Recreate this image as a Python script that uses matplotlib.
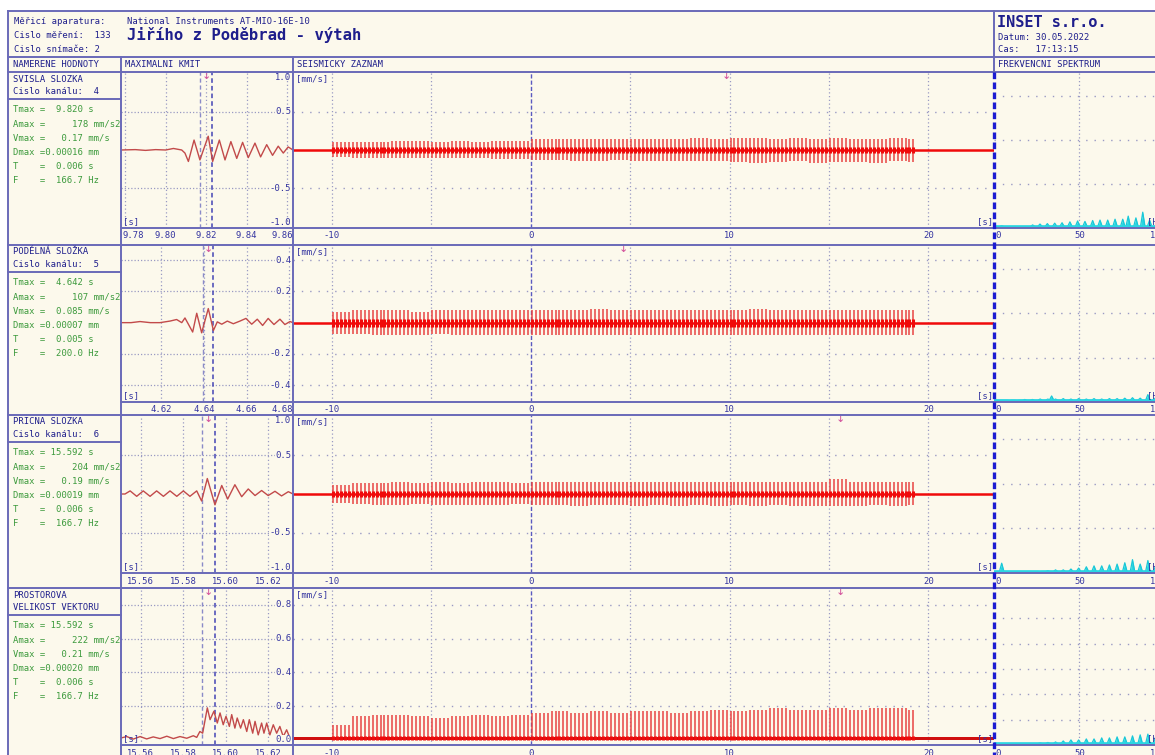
import numpy as np
import matplotlib
matplotlib.use("Agg")
import matplotlib.pyplot as plt
from matplotlib.lines import Line2D
from matplotlib.patches import Rectangle
import matplotlib.transforms as mtransforms

plt.rcParams['font.family'] = ['DejaVu Sans Mono', 'DejaVu Sans']

# ---------------------------------------------------------------- data
HEADER_LEFT = ["Měřicí aparatura:", "Cislo měření:  133", "Cislo snímače: 2"]
DEVICE = "National Instruments AT-MIO-16E-10"
TITLE = "Jiřího z Poděbrad - výtah"
COMPANY = "INSET s.r.o."
DATE_LINE = "Datum: 30.05.2022"
TIME_LINE = "Cas:   17:13:15"
COL_TITLES = ["NAMERENE HODNOTY", "MAXIMALNI KMIT", "SEISMICKY ZAZNAM", "FREKVENCNI SPEKTRUM"]

ROW_TITLES = [["SVISLA SLOZKA", "Cislo kanálu:  4"],
              ["PODÉLNÁ SLOŽKA", "Cislo kanálu:  5"],
              ["PRICNA SLOZKA", "Cislo kanálu:  6"],
              ["PROSTOROVA", "VELIKOST VEKTORU"]]
TMAX = [9.820, 4.642, 15.592, 15.592]
AMAX = [178, 107, 204, 222]
VMAX_TXT = ["0.17", "0.085", "0.19", "0.21"]
DMAX_TXT = ["0.00016", "0.00007", "0.00019", "0.00020"]
PERIOD = [0.006, 0.005, 0.006, 0.006]
FREQ = [166.7, 200.0, 166.7, 166.7]

# maximum oscillation detail (time [s], velocity [mm/s])
KMIT_T = [
    [9.7779, 9.7850, 9.7900, 9.7950, 9.8000, 9.8038, 9.8079, 9.8095, 9.8112, 9.8140,
     9.8169, 9.8210, 9.8232, 9.8265, 9.8293, 9.8322, 9.8351, 9.8380, 9.8408, 9.8441,
     9.8469, 9.8499, 9.8528, 9.8556, 9.8581, 9.8605, 9.8629],
    [4.6013, 4.6060, 4.6102, 4.6150, 4.6195, 4.6242, 4.6273, 4.6297, 4.6312, 4.6348,
     4.6367, 4.6390, 4.6421, 4.6445, 4.6463, 4.6484, 4.6510, 4.6538, 4.6569, 4.6597,
     4.6624, 4.6650, 4.6675, 4.6701, 4.6728, 4.6756, 4.6779, 4.6803, 4.6817],
    [15.5507, 15.5526, 15.5550, 15.5581, 15.5612, 15.5644, 15.5675, 15.5707, 15.5738,
     15.5770, 15.5801, 15.5832, 15.5864, 15.5887, 15.5914, 15.5950, 15.5982, 15.6010,
     15.6044, 15.6076, 15.6107, 15.6139, 15.6170, 15.6201, 15.6233, 15.6264, 15.6296, 15.6318],
    [15.5502, 15.5534, 15.5565, 15.5597, 15.5628, 15.5659, 15.5691, 15.5723, 15.5754,
     15.5785, 15.5817, 15.5848, 15.5864, 15.5879, 15.5892, 15.5914, 15.5927, 15.5945,
     15.5961, 15.5974, 15.5989, 15.6002, 15.6018, 15.6029, 15.6044, 15.6055, 15.6071,
     15.6084, 15.6100, 15.6112, 15.6128, 15.6139, 15.6154, 15.6170, 15.6181, 15.6194,
     15.6209, 15.6225, 15.6241, 15.6256, 15.6272, 15.6288, 15.6304, 15.6319],
]
KMIT_V = [
    [0.0, 0.005, -0.005, 0.005, 0.0, 0.02, 0.0, -0.04, -0.15, 0.13,
     -0.13, 0.18, -0.15, 0.13, -0.13, 0.11, -0.11, 0.10, -0.10, 0.09,
     -0.09, 0.07, -0.07, 0.05, -0.04, 0.04, 0.0],
    [0.0, 0.0, 0.007, 0.0, 0.0, 0.01, 0.02, 0.0, 0.03, -0.06,
     0.06, -0.065, 0.09, -0.05, 0.005, -0.01, 0.01, -0.007, 0.01, 0.027,
     -0.01, 0.022, -0.018, 0.027, -0.012, 0.022, -0.012, 0.007, 0.0],
    [0.0, 0.0, 0.04, -0.03, 0.04, -0.03, 0.04, -0.03, 0.04,
     -0.03, 0.04, -0.03, 0.04, -0.09, 0.20, -0.14, 0.11, -0.065,
     0.12, -0.035, 0.065, -0.02, 0.045, -0.02, 0.035, -0.025, 0.03, 0.0],
    [0.01, 0.02, 0.005, 0.02, 0.006, 0.018, 0.008, 0.022, 0.008,
     0.02, 0.01, 0.025, 0.015, 0.05, 0.04, 0.19, 0.12, 0.17,
     0.10, 0.16, 0.09, 0.14, 0.08, 0.15, 0.07, 0.13, 0.07,
     0.12, 0.05, 0.12, 0.04, 0.11, 0.03, 0.10, 0.04, 0.10,
     0.03, 0.09, 0.04, 0.08, 0.02, 0.06, 0.01, 0.02],
]
KMIT_XTICKS = [[9.78, 9.80, 9.82, 9.84, 9.86], [4.62, 4.64, 4.66, 4.68],
               [15.56, 15.58, 15.60, 15.62], [15.56, 15.58, 15.60, 15.62]]
Y_TICKS = [[1.0, 0.5, -0.5, -1.0], [0.4, 0.2, -0.2, -0.4],
           [1.0, 0.5, -0.5, -1.0], [0.8, 0.6, 0.4, 0.2, 0.0]]
Y_GRID = [[0.5, -0.5], [0.4, 0.2, -0.2, -0.4], [0.5, -0.5], [0.8, 0.6, 0.4, 0.2]]

# seismic record: pulse train, envelope read per second (-10 .. 19 s)
SEIS_TICKS = [-10, 0, 10, 20]
SEIS_GRID = [-10, -5, 0, 5, 10, 15, 20]
PULSE_START, PULSE_END, PULSE_STEP = -9.95, 19.40, 0.2
SEIS_POS = [
    [0.10, 0.11, 0.11, 0.12, 0.12, 0.11, 0.12, 0.11, 0.12, 0.12,
     0.14, 0.14, 0.15, 0.14, 0.15, 0.15, 0.14, 0.15, 0.16, 0.15,
     0.16, 0.16, 0.15, 0.16, 0.15, 0.16, 0.15, 0.14, 0.16, 0.15],
    [0.07, 0.08, 0.08, 0.08, 0.07, 0.08, 0.08, 0.08, 0.08, 0.08,
     0.08, 0.08, 0.08, 0.09, 0.08, 0.08, 0.08, 0.08, 0.08, 0.08,
     0.08, 0.09, 0.08, 0.08, 0.08, 0.08, 0.08, 0.08, 0.08, 0.08],
    [0.12, 0.14, 0.14, 0.15, 0.14, 0.15, 0.14, 0.15, 0.15, 0.14,
     0.15, 0.15, 0.16, 0.15, 0.15, 0.16, 0.15, 0.16, 0.15, 0.16,
     0.15, 0.16, 0.15, 0.16, 0.16, 0.19, 0.16, 0.15, 0.16, 0.15],
    [0.09, 0.14, 0.15, 0.15, 0.14, 0.13, 0.14, 0.15, 0.14, 0.15,
     0.16, 0.17, 0.16, 0.17, 0.16, 0.17, 0.17, 0.16, 0.17, 0.18,
     0.17, 0.18, 0.19, 0.18, 0.18, 0.19, 0.18, 0.19, 0.19, 0.18],
]
SEIS_NEG = [
    [0.09, 0.10, 0.11, 0.10, 0.11, 0.11, 0.10, 0.11, 0.12, 0.12,
     0.13, 0.13, 0.14, 0.14, 0.13, 0.14, 0.14, 0.15, 0.15, 0.14,
     0.16, 0.17, 0.16, 0.15, 0.17, 0.16, 0.16, 0.17, 0.15, 0.16],
    [0.07, 0.07, 0.08, 0.08, 0.08, 0.07, 0.08, 0.08, 0.08, 0.08,
     0.08, 0.08, 0.08, 0.08, 0.08, 0.08, 0.08, 0.08, 0.08, 0.08,
     0.08, 0.08, 0.08, 0.08, 0.08, 0.08, 0.08, 0.08, 0.08, 0.08],
    [0.12, 0.13, 0.14, 0.14, 0.13, 0.14, 0.14, 0.14, 0.14, 0.13,
     0.14, 0.14, 0.15, 0.14, 0.14, 0.15, 0.14, 0.15, 0.14, 0.15,
     0.14, 0.15, 0.14, 0.15, 0.15, 0.15, 0.15, 0.14, 0.15, 0.14],
    [0.0] * 30,
]
SEIS_CORE = [0.04, 0.025, 0.04, 0.025]

# frequency spectrum peaks (Hz, relative amplitude)
SPEC_F = [
    [4.5, 22.6, 26.9, 31.2, 35.5, 39.8, 44.4, 48.9, 53.2, 57.7, 62.0, 66.5, 70.8,
     75.3, 78.5, 83.0, 87.0, 91.0, 95.5],
    [9.0, 13.5, 18.0, 22.5, 27.0, 31.5, 33.7, 36.0, 40.5, 45.0, 49.5, 54.0, 58.5,
     63.0, 67.5, 72.0, 76.5, 81.0, 85.5, 90.0, 94.5],
    [4.5, 27.0, 31.5, 36.0, 40.5, 45.0, 49.5, 54.0, 58.5, 63.0, 67.5, 72.0, 76.5,
     81.0, 85.5, 90.0, 94.5],
    [22.5, 27.0, 31.5, 36.0, 40.5, 45.0, 49.5, 54.0, 58.5, 63.0, 67.5, 72.0, 76.5,
     81.0, 85.5, 90.0, 94.5],
]
SPEC_H = [
    [0.05, 0.07, 0.09, 0.10, 0.11, 0.12, 0.14, 0.16, 0.15, 0.17, 0.18, 0.18, 0.20,
     0.20, 0.27, 0.23, 0.36, 0.18, 0.20],
    [0.03, 0.03, 0.05, 0.05, 0.06, 0.06, 0.13, 0.06, 0.07, 0.06, 0.07, 0.06, 0.07,
     0.06, 0.07, 0.07, 0.08, 0.09, 0.08, 0.16, 0.09],
    [0.22, 0.03, 0.05, 0.07, 0.07, 0.09, 0.11, 0.14, 0.16, 0.16, 0.18, 0.20, 0.23,
     0.30, 0.20, 0.28, 0.16],
    [0.06, 0.08, 0.10, 0.12, 0.16, 0.20, 0.20, 0.24, 0.24, 0.28, 0.28, 0.32, 0.32,
     0.36, 0.40, 0.43, 0.32],
]
SPEC_TICKS = [0, 50, 100]

# ---------------------------------------------------------------- layout / style
W, H = 1155, 755
ROW_TOP = [72, 245, 415, 588]
ROW_AXB = [228, 401.7, 573, 745]
ROW_SEP = [245, 415, 588]
KMIT_XLIM = [(9.7779, 9.8629), (4.6013, 4.6817), (15.5507, 15.6318), (15.5507, 15.6318)]
YLIM = [(-1.02, 1.02), (-0.505, 0.496), (-1.02, 1.02), (-0.03, 0.90)]
SEIS_XLIM = (-11.95, 23.3)
SPEC_XLIM = (0, 100.6)
SPEC_YLIM = [3.55, 3.55, 3.55, 6.2]
SPEC_GRID = [[1, 2, 3], [1, 2, 3], [1, 2, 3], [1, 2, 3, 4, 5]]
X_LEFT, X_K, X_S, X_F, X_FR = 8, 121, 293, 994, 1166

CREAM = '#fcf9ec'
FRAME = '#6a6ab8'
NAVY = '#1e1e8c'
LBL = '#3434a0'
GREEN = '#3c9a3c'
GRID = '#9a9ac4'
TRACE_K = '#c24a4a'
TRACE_S = '#e84040'
CORE_S = '#f00a0a'
CYAN = '#2ad6e2'
PINK = '#d2509a'
BLUE_THICK = '#1c1cd2'
SMALL = 6.4

fig = plt.figure(figsize=(W / 100, H / 100), dpi=100)
fig.patch.set_facecolor('white')


def fline(xs, ys, **kw):
    kw.setdefault('color', FRAME)
    kw.setdefault('lw', 1.4)
    kw.setdefault('zorder', 6)
    fig.add_artist(Line2D([x / W for x in xs], [1 - y / H for y in ys],
                          transform=fig.transFigure, **kw))


def ftext(x, y, s, **kw):
    kw.setdefault('color', NAVY)
    kw.setdefault('fontsize', SMALL)
    kw.setdefault('va', 'center')
    kw.setdefault('ha', 'left')
    fig.text(x / W, 1 - y / H, s, zorder=7, **kw)


def add_ax(x0, y0, x1, y1):
    ax = fig.add_axes([x0 / W, 1 - y1 / H, (x1 - x0) / W, (y1 - y0) / H])
    ax.set_axis_off()
    return ax


def xlabels(ax, ticks, fmt, xlim, width_px, height_px):
    tr = mtransforms.blended_transform_factory(ax.transData, ax.transAxes)
    y = -8.0 / height_px
    for t in ticks:
        off = (t - xlim[0]) / (xlim[1] - xlim[0]) * width_px
        if off < 12:
            ax.text(1.5 / width_px, y, fmt(t), transform=ax.transAxes, ha='left', va='center',
                    color=LBL, fontsize=SMALL, clip_on=False)
        elif width_px - off < 12:
            ax.text(1.0, y, fmt(t), transform=ax.transAxes, ha='right', va='center',
                    color=LBL, fontsize=SMALL, clip_on=False)
        else:
            ax.text(t, y, fmt(t), transform=tr, ha='center', va='center',
                    color=LBL, fontsize=SMALL, clip_on=False)


# cream background
fig.add_artist(Rectangle((X_LEFT / W, 0), 1, 1 - 11 / H, transform=fig.transFigure,
                         facecolor=CREAM, edgecolor='none', zorder=-5))

# header texts
for i, s in enumerate(HEADER_LEFT):
    ftext(14, [22, 35, 49][i], s)
ftext(127, 22, DEVICE)
ftext(127, 35, TITLE, fontsize=11.2, fontweight='bold')
ftext(997, 22.5, COMPANY, fontsize=11.0, fontweight='bold')
ftext(998, 37, DATE_LINE)
ftext(998, 50, TIME_LINE)
for x, s in zip([13, 125, 297, 998], COL_TITLES):
    ftext(x, 64.5, s)

# frame lines
fline([X_LEFT, W + 5], [11, 11])
fline([X_LEFT, W + 5], [57, 57])
fline([X_LEFT, W + 5], [72, 72])
fline([X_LEFT, X_LEFT], [11, H + 5])
fline([X_K, X_K], [57, H + 5])
fline([X_S, X_S], [57, H + 5])
fline([X_F, X_F], [11, 72])
fline([X_F, X_F], [72, H + 5], color=BLUE_THICK, lw=2.4, ls=(0, (2, 1)), zorder=8)
for y in ROW_SEP:
    fline([X_LEFT, W + 5], [y, y])
for y in ROW_AXB:
    fline([X_K, W + 5], [y, y])

pulse_t = np.arange(PULSE_START, PULSE_END, PULSE_STEP)
pulse_sec = np.floor(pulse_t).astype(int) - SEIS_GRID[0]

for r in range(4):
    top, axb = ROW_TOP[r], ROW_AXB[r]
    hpx = axb - top

    # ---- measured values column
    ftext(13, top + 7, ROW_TITLES[r][0])
    ftext(13, top + 19.5, ROW_TITLES[r][1])
    fline([X_LEFT, X_K], [top + 27, top + 27])
    vals = [f"Tmax = {TMAX[r]:6.3f} s",
            f"Amax = {AMAX[r]:7d} mm/s2",
            f"Vmax = {VMAX_TXT[r]:>6} mm/s",
            f"Dmax ={DMAX_TXT[r]} mm",
            f"T    = {PERIOD[r]:6.3f} s",
            f"F    = {FREQ[r]:6.1f} Hz"]
    for i, s in enumerate(vals):
        ftext(13, top + 37.5 + 14.2 * i, s, color=GREEN)

    # ---- maximum oscillation panel
    axk = add_ax(X_K, top, X_S, axb)
    axk.set_xlim(*KMIT_XLIM[r])
    axk.set_ylim(*YLIM[r])
    wpx = X_S - X_K
    for g in Y_GRID[r]:
        axk.axhline(g, color=GRID, lw=0.9, ls=(0, (1, 1.6)))
    for xt in KMIT_XTICKS[r]:
        axk.axvline(xt, color=GRID, lw=0.9, ls=(0, (1, 2)))
    axk.axvline(TMAX[r] - PERIOD[r] / 2, color='#8a8ac8', lw=1.0, ls=(0, (3, 2)))
    axk.axvline(TMAX[r] + PERIOD[r] / 2, color='#4444b4', lw=1.1, ls=(0, (3, 2)))
    axk.plot(KMIT_T[r], KMIT_V[r], color=TRACE_K, lw=1.0, zorder=3)
    trk = mtransforms.blended_transform_factory(axk.transData, axk.transAxes)
    axk.text(TMAX[r], 1.0 + 1.0 / hpx, '↓', transform=trk, ha='center', va='top',
             color=PINK, fontsize=8, fontfamily='DejaVu Sans')
    tyx = mtransforms.blended_transform_factory(axk.transAxes, axk.transData)
    y0, y1 = YLIM[r]
    for v in Y_TICKS[r]:
        frac = (v - y0) / (y1 - y0)
        if (1 - frac) * hpx < 6:
            axk.text(0.99, 1 - 1.0 / hpx, f"{v:.1f}", transform=axk.transAxes, ha='right',
                     va='top', color=LBL, fontsize=SMALL)
        elif frac * hpx < 4:
            axk.text(0.99, 1.0 / hpx, f"{v:.1f}", transform=axk.transAxes, ha='right',
                     va='bottom', color=LBL, fontsize=SMALL)
        else:
            axk.text(0.99, v, f"{v:.1f}", transform=tyx, ha='right', va='center',
                     color=LBL, fontsize=SMALL,
                     bbox=dict(facecolor=CREAM, edgecolor='none', pad=0.3))
    axk.text(2.0 / wpx, 2.0 / hpx, '[s]', transform=axk.transAxes, ha='left', va='bottom',
             color=LBL, fontsize=SMALL)
    xlabels(axk, KMIT_XTICKS[r], lambda t: f"{t:.2f}", KMIT_XLIM[r], wpx, hpx)

    # ---- seismic record panel
    axs = add_ax(X_S, top, X_F, axb)
    axs.set_xlim(*SEIS_XLIM)
    axs.set_ylim(*YLIM[r])
    for g in Y_GRID[r]:
        axs.axhline(g, color=GRID, lw=1.0, ls=(0, (1, 5)))
    for g in SEIS_GRID:
        if g == 0:
            axs.axvline(g, color='#5a5ac0', lw=1.0, ls=(0, (3, 1.5)))
        else:
            axs.axvline(g, color=GRID, lw=0.9, ls=(0, (1, 2)))
    pos = np.array(SEIS_POS[r])[pulse_sec]
    neg = np.array(SEIS_NEG[r])[pulse_sec]
    core = SEIS_CORE[r]
    if r < 3:
        axs.plot(SEIS_XLIM, [0, 0], color=CORE_S, lw=1.8, zorder=2)
        axs.vlines(pulse_t, -neg, pos, color=TRACE_S, lw=1.2, alpha=0.9, zorder=3)
        axs.vlines(pulse_t, -core, core, color=CORE_S, lw=2.2, zorder=4)
    else:
        axs.fill_between(SEIS_XLIM, 0, core * 0.6, color='#d01010', lw=0, zorder=2)
        axs.vlines(pulse_t, 0, pos, color=TRACE_S, lw=1.2, alpha=0.9, zorder=3)
        axs.vlines(pulse_t, 0, core, color=CORE_S, lw=2.2, zorder=4)
    trs = mtransforms.blended_transform_factory(axs.transData, axs.transAxes)
    axs.text(TMAX[r], 1.0 + 1.0 / hpx, '↓', transform=trs, ha='center', va='top',
             color=PINK, fontsize=8, fontfamily='DejaVu Sans')
    spx = X_F - X_S
    axs.text(3.0 / spx, 1 - 2.0 / hpx, '[mm/s]', transform=axs.transAxes, ha='left', va='top',
             color=LBL, fontsize=SMALL, zorder=6)
    axs.text(1 - 1.0 / spx, 2.0 / hpx, '[s]', transform=axs.transAxes, ha='right', va='bottom',
             color=LBL, fontsize=SMALL, zorder=6)
    xlabels(axs, SEIS_TICKS, lambda t: f"{t:d}", SEIS_XLIM, spx, hpx)

    # ---- frequency spectrum panel
    axf = add_ax(X_F, top, X_FR, axb)
    axf.set_xlim(*SPEC_XLIM)
    axf.set_ylim(0, SPEC_YLIM[r])
    for g in SPEC_GRID[r]:
        axf.axhline(g, color=GRID, lw=1.0, ls=(0, (1, 5)))
    axf.axvline(50, color=GRID, lw=0.9, ls=(0, (1, 2)))
    base = 0.035 * SPEC_YLIM[r] / 3.55
    xs, ys = [SPEC_XLIM[0]], [base]
    for f, h in zip(SPEC_F[r], SPEC_H[r]):
        xs += [f - 1.3, f, f + 1.3]
        ys += [base, h, base]
    xs.append(SPEC_XLIM[1])
    ys.append(base)
    axf.fill_between(xs, 0, ys, color=CYAN, lw=0, zorder=2)
    axf.plot(xs, ys, color='#18c8d8', lw=0.9, zorder=3)
    axf.plot(SPEC_XLIM, [base / 2, base / 2], color=CYAN, lw=2.6, zorder=3)
    fpx = X_FR - X_F
    axf.text(89.5, 2.0 / hpx, '[Hz]', transform=mtransforms.blended_transform_factory(
        axf.transData, axf.transAxes), ha='left', va='bottom', color=LBL, fontsize=SMALL, zorder=6)
    xlabels(axf, SPEC_TICKS, lambda t: f"{t:d}", SPEC_XLIM, fpx, hpx)

fig.savefig('out.png', dpi=100, facecolor=fig.get_facecolor())
